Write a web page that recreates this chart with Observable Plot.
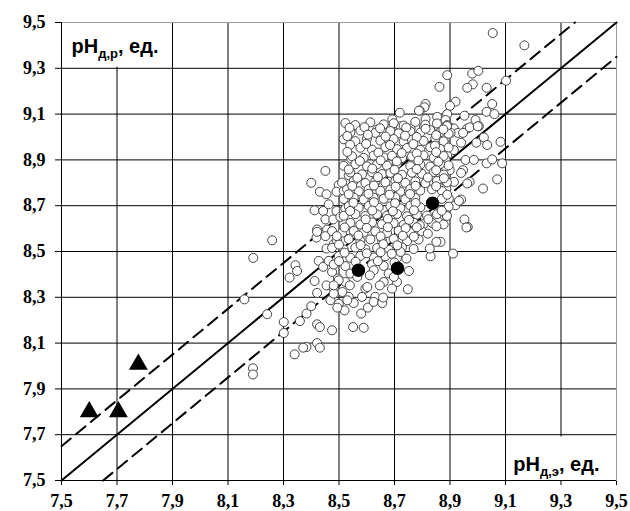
<!DOCTYPE html>
<html>
<head>
<meta charset="utf-8">
<script src="https://cdn.jsdelivr.net/npm/d3@7"></script>
<script src="https://cdn.jsdelivr.net/npm/@observablehq/plot@0.6"></script>
<style>
  html, body { margin: 0; padding: 0; background: #fff; }
</style>
</head>
<body>
<div id="chart"></div>
<script>
const xTicks = [7.5, 7.7, 7.9, 8.1, 8.3, 8.5, 8.7, 8.9, 9.1, 9.3, 9.5];
const yTicks = [7.5, 7.7, 7.9, 8.1, 8.3, 8.5, 8.7, 8.9, 9.1, 9.3, 9.5];
const lineOffsets = [0, 0.15, -0.15];

const triangles = [[7.60, 7.80], [7.705, 7.80], [7.777, 8.007]];
const filledCircles = [[8.570, 8.418], [8.711, 8.427], [8.837, 8.711]];

const openCircles = [
  [9.054,9.454],[9.168,9.400],
  [8.890,9.270],[8.862,9.219],[8.980,9.277],[9.002,9.289],[8.982,9.230],[8.962,9.215],[9.032,9.215],[9.102,9.246],
  [9.052,9.144],[9.032,9.110],[9.060,9.100],[8.920,9.154],[8.900,9.136],[8.812,9.144],[8.808,9.130],[8.791,9.115],
  [8.812,9.079],[8.854,9.088],[8.890,9.100],[8.884,9.074],[8.952,9.093],[8.992,9.074],[9.004,9.047],[8.806,9.044],
  [8.860,9.042],[8.914,9.037],[8.962,9.037],
  [8.719,9.106],[8.788,9.115],[8.692,9.077],[8.722,9.047],[8.686,9.037],[8.638,9.033],[8.758,9.037],
  [8.451,8.852],[8.400,8.800],[8.431,8.761],[8.455,8.750],[8.499,8.790],[8.491,8.761],[8.517,8.765],[8.535,8.833],
  [8.544,8.906],[8.412,8.680],[8.443,8.677],[8.463,8.706],[8.491,8.677],[8.517,8.680],[8.451,8.640],[8.479,8.640],
  [8.505,8.651],[8.421,8.596],[8.457,8.596],[8.259,8.549],[8.419,8.561],[8.530,8.593],[8.523,8.687],
  [8.191,8.472],[8.343,8.440],[8.349,8.415],[8.322,8.386],[8.159,8.291],[8.241,8.226],[8.301,8.192],[8.301,8.144],
  [8.359,8.196],[8.383,8.229],[8.400,8.261],[8.412,8.371],[8.421,8.319],[8.421,8.182],[8.431,8.170],[8.421,8.100],
  [8.431,8.080],[8.383,8.083],[8.371,8.080],[8.340,8.051],[8.421,8.586],[8.451,8.567],[8.481,8.532],[8.455,8.513],
  [8.427,8.459],[8.443,8.433],[8.463,8.459],[8.475,8.411],[8.496,8.382],[8.455,8.352],[8.481,8.338],[8.469,8.287],
  [8.499,8.272],[8.190,7.990],[8.190,7.963],
  [8.890,9.052],[8.928,9.018],[8.902,9.018],[8.947,9.018],[8.971,9.042],[9.000,9.047],[9.022,8.998],[8.995,8.975],
  [9.034,8.965],[8.940,8.975],[9.082,8.979],[8.884,8.969],[8.872,8.929],[8.890,8.921],[8.914,8.943],[8.956,8.900],
  [8.986,8.900],[9.032,8.885],[9.052,8.902],[9.088,8.885],[8.947,8.855],[8.940,8.843],[8.899,8.855],[9.070,8.815],
  [9.019,8.775],[8.971,8.804],[8.962,8.797],[8.878,8.811],[8.914,8.804],[8.887,8.775],[8.896,8.731],[8.920,8.702],
  [8.940,8.727],[8.932,8.721],[8.878,8.659],[8.952,8.640],[8.964,8.607],[8.884,8.900],[8.884,8.870],
  [8.959,8.605],[8.911,8.491],[8.866,8.542],
  [8.523,9.061],[8.559,9.052],[8.613,9.064],[8.661,9.055],[8.697,9.060],[8.733,9.050],[8.775,9.066],[8.811,9.054],[8.853,9.059],[8.889,9.048],
  [8.541,9.020],[8.577,9.028],[8.631,9.018],[8.685,9.026],[8.715,9.016],[8.757,9.025],[8.793,9.019],[8.829,9.030],[8.865,9.021],[8.895,9.014],
  [8.517,8.990],[8.559,8.982],[8.601,8.993],[8.649,8.984],[8.697,8.991],[8.733,8.980],[8.763,8.988],[8.805,8.983],[8.847,8.994],[8.877,8.981],
  [8.577,8.953],[8.619,8.945],[8.667,8.956],[8.709,8.947],[8.745,8.952],[8.793,8.944],[8.829,8.955],[8.865,8.948],[8.895,8.954],
  [8.547,8.916],[8.589,8.909],[8.625,8.919],[8.661,8.911],[8.691,8.918],[8.727,8.908],[8.763,8.915],[8.805,8.920],[8.841,8.910],[8.877,8.917],
  [8.517,8.874],[8.559,8.881],[8.601,8.872],[8.637,8.880],[8.673,8.875],[8.709,8.883],[8.757,8.873],[8.793,8.879],[8.829,8.871],[8.865,8.882],[8.895,8.876],
  [8.541,8.845],[8.583,8.837],[8.619,8.846],[8.655,8.838],[8.685,8.843],[8.727,8.835],[8.763,8.844],[8.799,8.839],[8.841,8.847],[8.877,8.836],
  [8.511,8.801],[8.553,8.808],[8.595,8.799],[8.631,8.807],[8.667,8.802],[8.703,8.809],[8.739,8.800],[8.775,8.806],[8.811,8.798],[8.853,8.808],[8.889,8.802],
  [8.529,8.771],[8.571,8.763],[8.607,8.772],[8.649,8.765],[8.685,8.770],[8.721,8.762],[8.757,8.773],[8.793,8.766],[8.835,8.771],[8.871,8.764],
  [8.517,8.729],[8.553,8.736],[8.589,8.727],[8.625,8.735],[8.661,8.730],[8.703,8.737],[8.739,8.728],[8.775,8.734],[8.871,8.730],
  [8.535,8.698],[8.571,8.690],[8.607,8.699],[8.643,8.692],[8.685,8.697],[8.721,8.689],[8.757,8.700],[8.793,8.693],[8.895,8.696],
  [8.517,8.656],[8.559,8.663],[8.595,8.655],[8.637,8.662],[8.673,8.657],[8.709,8.664],[8.745,8.654],[8.781,8.661],[8.817,8.657],[8.853,8.663],[8.889,8.655],
  [8.541,8.625],[8.577,8.618],[8.619,8.627],[8.655,8.619],[8.697,8.624],[8.733,8.617],[8.769,8.626],[8.805,8.620],[8.835,8.625],[8.877,8.618],
  [8.475,8.589],[8.511,8.582],[8.553,8.590],[8.589,8.583],[8.631,8.588],[8.673,8.581],[8.715,8.591],[8.757,8.584],[8.799,8.588],
  [8.493,8.547],[8.535,8.554],[8.577,8.546],[8.613,8.553],[8.655,8.548],[8.697,8.555],[8.745,8.545],[8.787,8.552],
  [8.475,8.516],[8.517,8.509],[8.559,8.517],[8.595,8.510],[8.637,8.515],[8.679,8.508],[8.727,8.518],[8.769,8.511],
  [8.499,8.480],[8.541,8.473],[8.577,8.481],[8.625,8.474],[8.667,8.479],[8.709,8.472],
  [8.481,8.443],[8.523,8.436],[8.619,8.444],[8.661,8.437],
  [8.541,8.404],[8.679,8.404],[8.523,8.367],[8.661,8.367],[8.709,8.367],[8.595,8.338],[8.691,8.338],[8.535,8.302],
  [8.583,8.302],[8.631,8.302],
  [8.475,8.156],[8.551,8.170],[8.589,8.167],[8.580,8.229],[8.604,8.255],[8.520,8.243],[8.494,8.255],[8.553,8.275],
  [8.625,8.280],[8.656,8.275],[8.659,8.299],[8.748,8.335],[8.602,8.345],[8.647,8.352],[8.698,8.389],[8.830,8.479],
  [8.827,8.513],[8.851,8.542],[8.851,8.610],[8.820,8.578],[8.791,8.615],[8.752,8.415],[8.743,8.469],[8.722,8.498],
  [8.625,8.418],[8.611,8.396],[8.566,8.389],[8.539,8.352],[8.499,8.374],[8.512,8.323],[8.481,8.316],[8.530,8.287],
  [8.481,8.352],
  [8.538,9.040],[8.592,9.043],[8.648,9.038],[8.742,9.041],[8.812,9.036],[8.876,9.033],
  [8.530,9.004],[8.604,9.010],[8.668,9.002],[8.738,9.006],[8.780,9.000],[8.850,9.008],
  [8.540,8.966],[8.598,8.970],[8.684,8.965],[8.768,8.969],[8.846,8.962],
  [8.530,8.935],[8.642,8.932],[8.726,8.930],[8.780,8.928],[8.850,8.934],
  [8.575,8.895],[8.650,8.898],[8.708,8.893],[8.786,8.897],[8.858,8.892],
  [8.535,8.858],[8.620,8.862],[8.700,8.857],[8.780,8.860],[8.850,8.855],
  [8.566,8.822],[8.640,8.825],[8.712,8.820],[8.820,8.823],[8.878,8.820],
  [8.548,8.786],[8.626,8.788],[8.704,8.783],[8.776,8.787],[8.850,8.785],
  [8.535,8.750],[8.606,8.752],[8.682,8.748],[8.756,8.751],[8.890,8.748],
  [8.552,8.713],[8.626,8.715],[8.702,8.711],[8.776,8.712],
  [8.540,8.677],[8.620,8.679],[8.694,8.676],[8.770,8.680],[8.870,8.678],
  [8.596,8.640],[8.676,8.642],[8.752,8.638],[8.822,8.641],
  [8.520,8.605],[8.600,8.603],[8.676,8.606],[8.740,8.602],[8.780,8.606],
  [8.492,8.567],[8.570,8.570],[8.650,8.566],[8.730,8.569],[8.770,8.565],
  [8.500,8.530],[8.578,8.528],[8.660,8.532],[8.710,8.527],
  [8.520,8.495],[8.600,8.492],[8.650,8.497],[8.690,8.490],
  [8.500,8.458],[8.560,8.455],[8.640,8.458],[8.700,8.452]
];

const axisTitles = [
  {x: 7.536, y: 9.395, base: "pH", sub: "д,р", tail: ", ед."},
  {x: 9.128, y: 7.568, base: "pH", sub: "д,э", tail: ", ед."}
];
const titleBoxes = [
  {x1: 7.5, x2: 7.88, y1: 9.305, y2: 9.5},
  {x1: 9.11, x2: 9.5, y1: 7.5, y2: 7.69}
];

const fmt = d => d.toFixed(1).replace(".", ",");
const [xmin, xmax] = [xTicks[0], xTicks[xTicks.length - 1]];

const refLines = lineOffsets.map(off => {
  const x1 = Math.max(xmin, xmin - off), x2 = Math.min(xmax, xmax - off);
  return {off, pts: [{x: x1, y: x1 + off}, {x: x2, y: x2 + off}]};
});

const chart = Plot.plot({
  width: 630,
  height: 511,
  marginLeft: 61,
  marginRight: 14,
  marginTop: 22,
  marginBottom: 31,
  style: {
    fontFamily: "'Liberation Serif', 'Times New Roman', serif",
    fontSize: "18px",
    fontWeight: "bold",
    color: "#000",
    background: "#fff",
    overflow: "visible"
  },
  x: {domain: [xmin, xmax], ticks: xTicks, tickFormat: fmt, tickSize: 5, tickPadding: 9, label: null},
  y: {domain: [yTicks[0], yTicks[yTicks.length - 1]], ticks: yTicks, tickFormat: fmt, tickSize: 6, tickPadding: 10, label: null},
  marks: [
    Plot.ruleX(xTicks, {stroke: "#000", strokeWidth: 1}),
    Plot.ruleY(yTicks, {stroke: "#000", strokeWidth: 1}),
    Plot.rect(titleBoxes, {x1: "x1", x2: "x2", y1: "y1", y2: "y2", fill: "#fff"}),
    Plot.frame({stroke: "#999"}),
    Plot.ruleX([xmin], {stroke: "#000"}),
    Plot.ruleY([yTicks[0]], {stroke: "#000"}),
    ...refLines.map(l => Plot.line(l.pts, {
      x: "x", y: "y", stroke: "#000", strokeWidth: 2,
      strokeDasharray: l.off === 0 ? null : "12,7"
    })),
    Plot.dot(openCircles, {x: d => d[0], y: d => d[1], r: 4.5, fill: "#fff", stroke: "#444", strokeWidth: 1}),
    Plot.dot(filledCircles, {x: d => d[0], y: d => d[1], r: 6, fill: "#000", stroke: "#000"}),
    Plot.dot(triangles, {x: d => d[0], y: d => d[1], symbol: "triangle", r: 7, fill: "#000"}),
    Plot.text(axisTitles, {
      x: "x", y: "y", text: d => d.base + d.sub + d.tail, textAnchor: "start",
      fontFamily: "'Liberation Sans', Arial, sans-serif", fontSize: 20, fontWeight: "bold", fill: "#000"
    })
  ]
});

// Rebuild axis titles with subscripts
axisTitles.forEach(t => {
  const full = t.base + t.sub + t.tail;
  d3.select(chart).selectAll("text").filter(function() { return this.textContent === full; })
    .each(function() {
      const el = d3.select(this);
      el.selectAll("*").remove();
      el.text(null);
      el.append("tspan").text(t.base);
      el.append("tspan").attr("font-size", 13).attr("dy", 5).text(t.sub);
      el.append("tspan").attr("dy", -5).text(t.tail);
    });
});

document.getElementById("chart").appendChild(chart);
</script>
</body>
</html>
